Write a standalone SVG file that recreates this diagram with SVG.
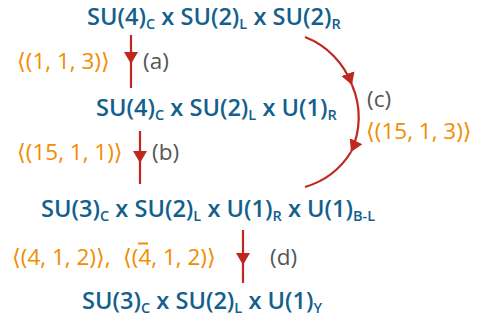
<svg xmlns="http://www.w3.org/2000/svg" width="482" height="326" viewBox="0 0 482 326">
<defs>
<style>
.g{font-family:"Open Sans","Noto Sans","DejaVu Sans",sans-serif;font-size:23.6px;font-weight:600;fill:#135f8e}
.s{font-size:14.5px}
.o{font-family:"Open Sans","Noto Sans","DejaVu Sans",sans-serif;font-size:22.5px;font-weight:500;fill:#f28c00}
.l{font-family:"Open Sans","Noto Sans","DejaVu Sans",sans-serif;font-size:22.5px;fill:#555555}
.c{stroke:#c0281f;stroke-width:2.2;fill:none}
</style>
<marker id="ah" markerWidth="12" markerHeight="14" refX="12" refY="7" orient="auto" markerUnits="userSpaceOnUse">
<path d="M0,0 L12,7 L0,14 z" fill="#c0281f"/>
</marker>
</defs>
<g id="n1"><text class="g" x="87" y="25">SU(4)<tspan class="s" dy="4">C</tspan><tspan dy="-4"> x SU(2)</tspan><tspan class="s" dy="4">L</tspan><tspan dy="-4"> x SU(2)</tspan><tspan class="s" dy="4">R</tspan></text></g>
<g id="n2"><text class="g" x="96" y="116">SU(4)<tspan class="s" dy="4">C</tspan><tspan dy="-4"> x SU(2)</tspan><tspan class="s" dy="4">L</tspan><tspan dy="-4"> x U(1)</tspan><tspan class="s" dy="4">R</tspan></text></g>
<g id="n3"><text class="g" x="41" y="217">SU(3)<tspan class="s" dy="4">C</tspan><tspan dy="-4"> x SU(2)</tspan><tspan class="s" dy="4">L</tspan><tspan dy="-4"> x U(1)</tspan><tspan class="s" dy="4">R</tspan><tspan dy="-4"> x U(1)</tspan><tspan class="s" dy="4">B-L</tspan></text></g>
<g id="n4"><text class="g" x="82" y="309">SU(3)<tspan class="s" dy="4">C</tspan><tspan dy="-4"> x SU(2)</tspan><tspan class="s" dy="4">L</tspan><tspan dy="-4"> x U(1)</tspan><tspan class="s" dy="4">Y</tspan></text></g>
<g id="connectors">
<path class="c" d="M131,35 V64" marker-end="url(#ah)"/><path class="c" d="M131,63 V88"/>
<path class="c" d="M140,131 V163" marker-end="url(#ah)"/><path class="c" d="M140,162 V184"/>
<path class="c" d="M243,230 V265" marker-end="url(#ah)"/><path class="c" d="M243,264 V283"/>
<path class="c" d="M305,37 A81.25,81.25 0 0 1 352,85" marker-end="url(#ah)"/>
<path class="c" d="M352,85 A81.25,81.25 0 0 1 351,152" marker-end="url(#ah)"/>
<path class="c" d="M351,152 A81.25,81.25 0 0 1 305,187"/>
</g>
<g id="labels">
<text class="o" x="17" y="69">⟨(1, 1, 3)⟩</text>
<text class="l" x="143" y="69">(a)</text>
<text class="l" x="367" y="107">(c)</text>
<text class="o" x="366" y="139">⟨(15, 1, 3)⟩</text>
<text class="o" x="17" y="160">⟨(15, 1, 1)⟩</text>
<text class="l" x="152" y="160">(b)</text>
<text class="o" x="12" y="265">⟨(4, 1, 2)⟩,<tspan x="123">⟨(4, 1, 2)⟩</tspan></text>
<line x1="138" y1="243.5" x2="148" y2="243.5" stroke="#f28c00" stroke-width="2"/>
<text class="l" x="270" y="265">(d)</text>
</g>
</svg>
